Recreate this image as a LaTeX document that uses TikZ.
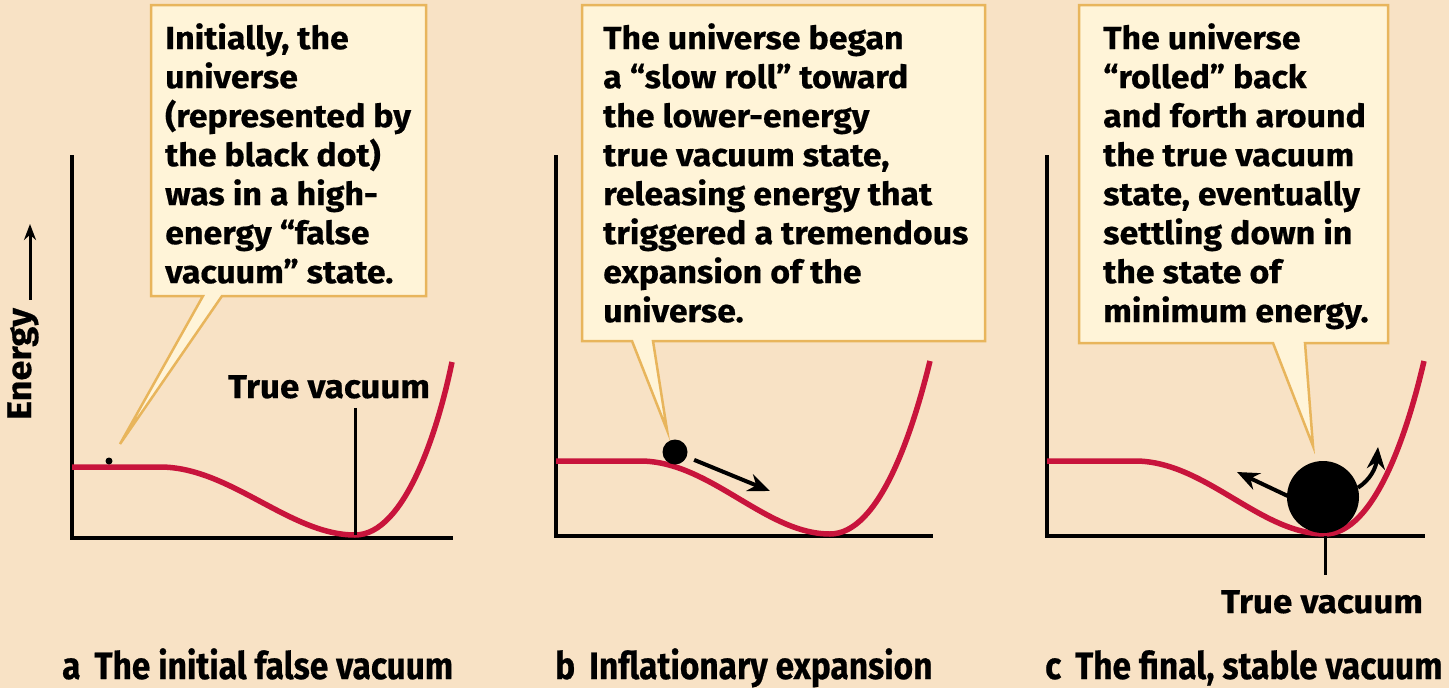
\documentclass[tikz,border=0pt]{standalone}
\usepackage{fontspec}
\setmainfont{Fira Sans}
\newfontfamily\callfont[FakeStretch=1.06, BoldFeatures={FakeBold=0.5}]{Fira Sans}
\newfontfamily\condfont[FakeStretch=0.88, BoldFeatures={FakeBold=0.5}]{Fira Sans}
\usetikzlibrary{arrows.meta}
\definecolor{bg}{HTML}{F8E2C5}
\definecolor{boxfill}{HTML}{FFF4D8}
\definecolor{boxline}{HTML}{E8B55C}
\definecolor{curvered}{HTML}{C8143C}
\tikzset{
  axisline/.style={line width=3.5pt, black},
  potential/.style={line width=5.5pt, curvered},
  callout/.style={draw=boxline, fill=boxfill, line width=2.5pt, line join=miter},
  calltext/.style={font=\callfont\bfseries\fontsize{32}{39}\selectfont, align=left, anchor=north west, inner sep=0pt},
  caption/.style={font=\condfont\bfseries\fontsize{38}{40}\selectfont, anchor=base west, inner sep=0pt},
  tvlabel/.style={font=\callfont\bfseries\fontsize{33}{36}\selectfont, anchor=base, inner sep=0pt},
  ball/.style={circle, fill=black, inner sep=0pt},
  push/.style={line width=4pt, black, -{Stealth[length=22pt,width=18pt]}},
}
\begin{document}
\begin{tikzpicture}[x=1pt,y=-1pt]
\fill[bg] (0,0) rectangle (1449,688);
\useasboundingbox (0,0) rectangle (1449,688);

% ---------- Energy label ----------
\node[rotate=90, font=\callfont\bfseries\fontsize{34}{36}\selectfont, inner sep=0pt] (elabel) at (23,364) {Energy};
\coordinate (etop) at (30,224);
\draw[line width=3pt, -{Stealth[length=16pt,width=12pt]}] (elabel.east -| etop) ++(0,-8) -- (etop);

% ---------- Panel a ----------
\draw[axisline] (72,155) -- (72,538) -- (453,538);
\draw[potential] (72,467) -- (160,467) .. controls (230,467) and (290,535) .. (355,535) .. controls (405,535) and (438,430) .. (452,362);
\node[ball, minimum size=7pt] (dota) at (109,461) {};
\node[tvlabel] (tva) at (329,398) {True vacuum};
\coordinate (mina) at (355,535);
\draw[line width=3pt] (tva.south -| mina) ++(0,9) -- (mina);
\coordinate (tipa) at (120,444);
\draw[callout] (151,5) -- (426,5) -- (426,296) -- (222,296) -- (tipa) -- (203,296) -- (151,296) -- cycle;
\node[calltext] (texta) at (165,23) {Initially, the\\universe\\(represented by\\the black dot)\\was in a high-\\energy “false\\vacuum” state.};

% ---------- Panel b ----------
\draw[axisline] (556,155) -- (556,536) -- (933,536);
\draw[potential] (556,461) -- (640,461) .. controls (710,461) and (765,534) .. (830,534) .. controls (880,534) and (913,430) .. (930,361);
\node[ball, minimum size=25pt] (ballb) at (675,452) {};
\coordinate (arrb) at (770,491);
\draw[push, shorten <=8pt] (ballb) -- (arrb);
\coordinate (tipb) at (667,430);
\draw[callout] (582,5) -- (985,5) -- (985,341) -- (653,341) -- (tipb) -- (632,341) -- (582,341) -- cycle;
\node[calltext] (textb) at (603,23) {The universe began\\a “slow roll” toward\\the lower-energy\\true vacuum state,\\releasing energy that\\triggered a tremendous\\expansion of the\\universe.};

% ---------- Panel c ----------
\draw[axisline] (1047,155) -- (1047,536) -- (1425,536);
\draw[potential] (1047,461) -- (1135,461) .. controls (1205,461) and (1260,534) .. (1325,534) .. controls (1375,534) and (1408,430) .. (1424,361);
\coordinate (minc) at (1325,536);
\coordinate (tickc) at (1325,575);
\draw[line width=3pt] (minc) -- (tickc);
\node[tvlabel] (tvc) at (1322,613) {True vacuum};
\node[ball, minimum size=72pt] (ballc) at (1323,497) {};
\coordinate (arrcl) at (1237,472);
\coordinate (arrcr) at (1378,447);
\draw[push] (ballc.west) ++(1,-1) -- (arrcl);
\draw[push] (ballc.15) .. controls (1370,480) and (1376,468) .. (arrcr);
\coordinate (tipc) at (1313,446);
\draw[callout] (1079,5) -- (1388,5) -- (1388,343) -- (1305,343) -- (tipc) -- (1273,343) -- (1079,343) -- cycle;
\node[calltext] (textc) at (1103,23) {The universe\\“rolled” back\\and forth around\\the true vacuum\\state, eventually\\settling down in\\the state of\\minimum energy.};

% ---------- Captions ----------
\node[caption] (capa) at (62,679) {a\hspace{14pt}The initial false vacuum};
\node[caption] (capb) at (555,679) {b\hspace{14pt}Inflationary expansion};
\node[caption] (capc) at (1045,679) {c\hspace{14pt}The final, stable vacuum};
\end{tikzpicture}
\end{document}
